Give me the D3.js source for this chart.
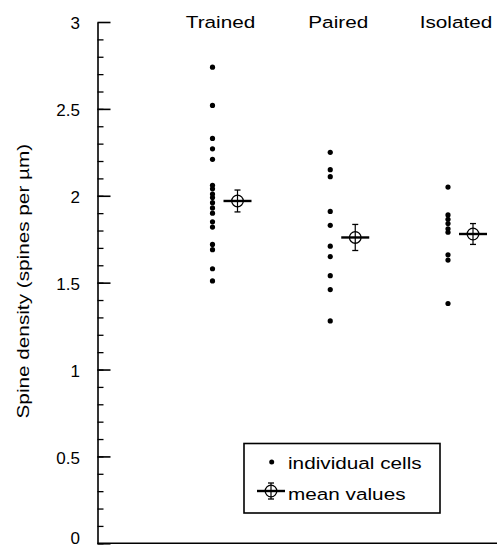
<!DOCTYPE html>
<html>
<head>
<meta charset="utf-8">
<script src="https://cdn.jsdelivr.net/npm/d3@7"></script>
<style>
  html, body { margin: 0; padding: 0; background: #fff; }
  svg { display: block; }
  text { font-family: "Liberation Sans", Arial, Helvetica, sans-serif; fill: #000; }
</style>
</head>
<body>
<svg id="chart" width="498" height="551"></svg>
<script>
// Groups and per-cell spine densities (spines per µm)
const groups = ["Trained", "Paired", "Isolated"];
const trainedCells = [2.74, 2.52, 2.33, 2.27, 2.21, 2.06, 2.04, 2.01, 1.99, 1.96, 1.93, 1.90, 1.85, 1.82, 1.72, 1.69, 1.58, 1.51];
const pairedCells = [2.25, 2.15, 2.11, 1.91, 1.83, 1.71, 1.65, 1.54, 1.46, 1.28];
const isolatedCells = [2.05, 1.89, 1.865, 1.84, 1.81, 1.79, 1.66, 1.63, 1.38];
// Group means and their error (± SEM)
const meanValues = [1.97, 1.76, 1.78];
const meanErrors = [0.063, 0.075, 0.06];
const yTicks = [0, 0.5, 1, 1.5, 2, 2.5, 3];
const yLabel = "Spine density (spines per µm)";
const legendLabels = ["individual cells", "mean values"];

const cells = [trainedCells, pairedCells, isolatedCells];

const svg = d3.select("#chart");
const W = 498, H = 551;
const margin = { left: 97.5, top: 22, bottom: 543.3, right: 497 };

const y = d3.scaleLinear().domain([0, 3]).range([margin.bottom, margin.top]);
const x = d3.scalePoint().domain(groups).range([212.5, 448]);
const meanOffset = 25;
const titleOffset = 8;
const stretch = 1.22;
const fontSize = 17;

// Minor ticks every 0.1
svg.append("g")
  .attr("transform", `translate(${margin.left},0)`)
  .call(d3.axisLeft(y).tickValues(d3.range(0, 30).map(i => i / 10)).tickSize(-6).tickFormat(""))
  .call(g => g.select(".domain").remove())
  .call(g => g.selectAll("line").attr("stroke", "#000").attr("stroke-width", 1.3));

// Major ticks and labels; the lowest label is kept inside the canvas
svg.append("g")
  .attr("transform", `translate(${margin.left},0)`)
  .call(d3.axisLeft(y).tickValues(yTicks).tickSize(-13).tickSizeOuter(0).tickPadding(17.5)
    .tickFormat(d => d3.format("")(d)))
  .call(g => g.select(".domain").attr("stroke", "#000").attr("stroke-width", 1.6))
  .call(g => g.selectAll(".tick line").attr("stroke", "#000").attr("stroke-width", 1.6))
  .call(g => g.selectAll(".tick text")
    .attr("font-size", fontSize).attr("font-family", "'Liberation Sans', Arial, sans-serif")
    .attr("fill", "#000")
    .attr("y", d => Math.min(1.2, H - 4 - fontSize * 0.21 - fontSize * 0.32 - y(d))));

// Bottom baseline
svg.append("line")
  .attr("x1", margin.left).attr("x2", margin.right)
  .attr("y1", y(0)).attr("y2", y(0))
  .attr("stroke", "#000").attr("stroke-width", 1.6);

// Y axis title
svg.append("g")
  .attr("transform", `translate(29,${(y(0) + y(3)) / 2 - 1.5}) rotate(-90) scale(${stretch},1)`)
  .append("text")
  .attr("text-anchor", "middle")
  .attr("font-size", fontSize)
  .text(yLabel);

// Group titles
groups.forEach(gname => {
  svg.append("g")
    .attr("transform", `translate(${x(gname) + titleOffset},28) scale(${stretch},1)`)
    .append("text")
    .attr("text-anchor", "middle")
    .attr("font-size", fontSize)
    .text(gname);
});

// Individual cells
groups.forEach((gname, i) => {
  svg.append("g").selectAll("circle")
    .data(cells[i])
    .join("circle")
    .attr("cx", x(gname))
    .attr("cy", d => y(d))
    .attr("r", 2.6)
    .attr("fill", "#000");
});

// Mean marker: thick horizontal bar, open circle, error bar with caps
function meanMarker(g, cx, cy, errPx) {
  g.append("line")
    .attr("x1", cx).attr("x2", cx)
    .attr("y1", cy - errPx).attr("y2", cy + errPx)
    .attr("stroke", "#000").attr("stroke-width", 1.2);
  [cy - errPx, cy + errPx].forEach(yy => {
    g.append("line")
      .attr("x1", cx - 3).attr("x2", cx + 3)
      .attr("y1", yy).attr("y2", yy)
      .attr("stroke", "#000").attr("stroke-width", 1.3);
  });
  g.append("circle")
    .attr("cx", cx).attr("cy", cy).attr("r", 5.8)
    .attr("fill", "none").attr("stroke", "#000").attr("stroke-width", 1.3);
  g.append("line")
    .attr("x1", cx - 14).attr("x2", cx + 14)
    .attr("y1", cy).attr("y2", cy)
    .attr("stroke", "#000").attr("stroke-width", 2.4);
}

groups.forEach((gname, i) => {
  const cy = y(meanValues[i]);
  const errPx = y(meanValues[i] - meanErrors[i]) - cy;
  meanMarker(svg.append("g"), x(gname) + meanOffset, cy, errPx);
});

// Legend
const legend = svg.append("g");
legend.append("rect")
  .attr("x", 244).attr("y", 443.5).attr("width", 196).attr("height", 69.5)
  .attr("fill", "#fff").attr("stroke", "#000").attr("stroke-width", 1.6);
legend.append("circle")
  .attr("cx", 271.7).attr("cy", 462).attr("r", 2.5).attr("fill", "#000");
meanMarker(legend.append("g"), 271, 491, 8);
legendLabels.forEach((t, i) => {
  legend.append("g")
    .attr("transform", `translate(288,${469 + i * 31}) scale(${stretch},1)`)
    .append("text")
    .attr("font-size", fontSize)
    .text(t);
});
</script>
</body>
</html>
